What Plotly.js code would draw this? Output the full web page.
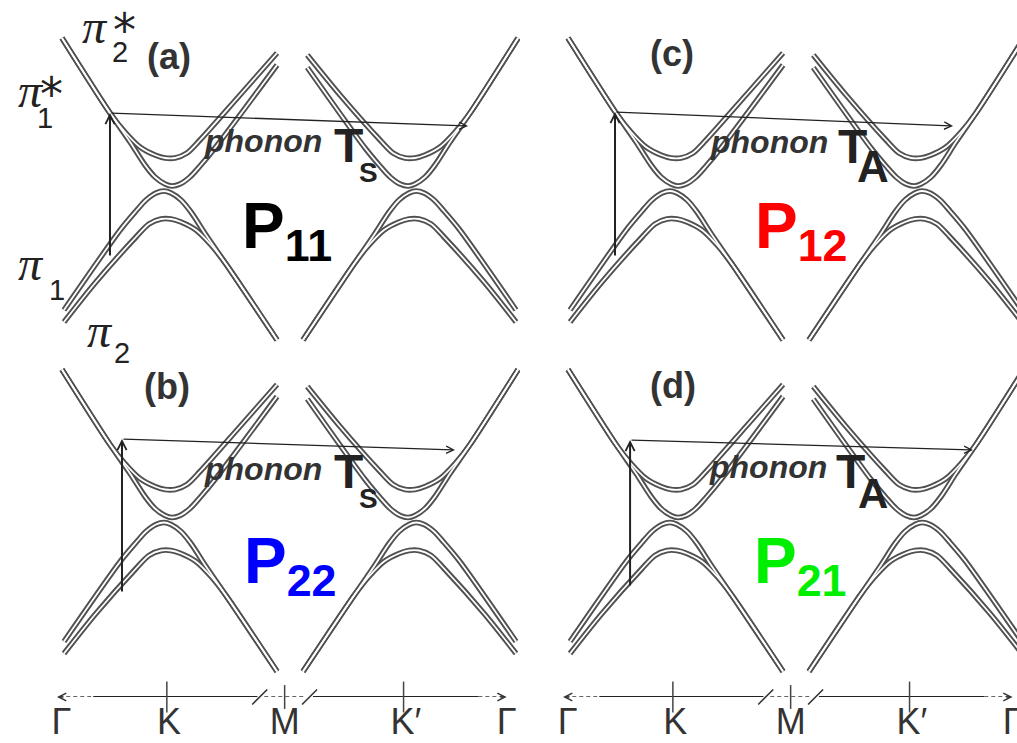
<!DOCTYPE html>
<html><head><meta charset="utf-8">
<script src="https://cdn.plot.ly/plotly-3.0.1.min.js"></script>
<style>html,body{margin:0;padding:0;background:#fff;} #chart{width:1017px;height:743px;}</style>
</head><body><div id="chart"></div>
<script>
// ---- k-path axis (Γ - K - M - K' - Γ), arbitrary k units ----
const kTickText = ['Γ', 'K', 'M', 'K′', 'Γ'];
const kLabelPos = [0.04, 0.99, 2.01, 3.08, 3.97];
const kValleyMarks = [0.97, 3.06];
const kMMark = [2.01];
const kBreaks = [1.79, 2.23];
const kSolid1 = [0.32, 1.77];
const kSolid2 = [2.26, 3.72];
const kDash1 = [0.02, 0.32];
const kDash2 = [1.83, 2.20];
const kDash3 = [3.72, 3.95];
const axisE = -1.77;

// ---- bands around K (energy in arbitrary units) ----
const kK_pi2s = [0.044, 0.468, 0.600, 0.733, 0.865, 0.954, 1.042, 1.148, 1.263, 1.616, 1.943];
const eK_pi2s = [1.505, 0.755, 0.565, 0.415, 0.335, 0.305, 0.305, 0.355, 0.485, 0.935, 1.355];
const kK_pi1s = [0.044, 0.468, 0.645, 0.777, 0.865, 0.954, 1.015, 1.086, 1.174, 1.263, 1.395, 1.943];
const eK_pi1s = [1.505, 0.755, 0.465, 0.235, 0.115, 0.045, 0.025, 0.045, 0.115, 0.225, 0.405, 1.235];
const kK_pi1 = [0.062, 0.565, 0.698, 0.786, 0.874, 0.945, 1.007, 1.095, 1.183, 1.316, 1.492, 1.943];
const eK_pi1 = [-1.215, -0.405, -0.225, -0.115, -0.045, -0.025, -0.045, -0.115, -0.235, -0.465, -0.755, -1.515];
const kK_pi2 = [0.062, 0.344, 0.698, 0.812, 0.918, 1.007, 1.095, 1.227, 1.360, 1.492, 1.943];
const eK_pi2 = [-1.335, -0.935, -0.485, -0.355, -0.305, -0.305, -0.335, -0.415, -0.565, -0.755, -1.515];

// ---- bands around K' ----
const kKp_pi2s = [2.21, 2.499, 2.852, 2.967, 3.073, 3.161, 3.250, 3.382, 3.515, 3.647, 4.071];
const eKp_pi2s = [1.335, 0.935, 0.485, 0.355, 0.305, 0.305, 0.335, 0.415, 0.565, 0.755, 1.505];
const kKp_pi1s = [2.21, 2.720, 2.852, 2.941, 3.029, 3.100, 3.161, 3.250, 3.338, 3.470, 3.647, 4.071];
const eKp_pi1s = [1.21, 0.405, 0.225, 0.115, 0.045, 0.025, 0.045, 0.115, 0.235, 0.465, 0.755, 1.505];
const kKp_pi1 = [2.172, 2.623, 2.799, 2.932, 3.020, 3.108, 3.170, 3.241, 3.329, 3.417, 3.550, 4.053];
const eKp_pi1 = [-1.515, -0.755, -0.465, -0.235, -0.115, -0.045, -0.025, -0.045, -0.115, -0.225, -0.405, -1.215];
const kKp_pi2 = [2.172, 2.623, 2.755, 2.888, 3.020, 3.108, 3.197, 3.303, 3.417, 3.771, 4.053];
const eKp_pi2 = [-1.515, -0.755, -0.565, -0.415, -0.335, -0.305, -0.305, -0.355, -0.485, -0.935, -1.335];

// ---- transitions per panel (a, b, c, d) ----
const pumpK = [0.468, 0.574, 0.459, 0.592];
const pumpE0 = [-0.685, -0.73, -0.685, -0.67];
const pumpE1 = [0.755, 0.81, 0.765, 0.80];
const phononK = [3.629, 3.514, 3.444, 3.620];
const phononE = [0.625, 0.70, 0.625, 0.70];

// ---- panel labels ----
const panelTags = ['(a)', '(b)', '(c)', '(d)'];
const procLabels = ['P<sub>11</sub>', 'P<sub>22</sub>', 'P<sub>12</sub>', 'P<sub>21</sub>'];
const procColors = ['#000000', '#0000ff', '#ff0000', '#00ee00'];
const phononSub = ['S', 'S', 'A', 'A'];

const SANS = 'Liberation Sans, Arial, sans-serif';
const panels = [['x','y'], ['x2','y2'], ['x3','y3'], ['x4','y4']];
const bands = [
  [kK_pi2s, eK_pi2s], [kK_pi1s, eK_pi1s], [kK_pi1, eK_pi1], [kK_pi2, eK_pi2],
  [kKp_pi2s, eKp_pi2s], [kKp_pi1s, eKp_pi1s], [kKp_pi1, eKp_pi1], [kKp_pi2, eKp_pi2]
];

const traces = [];
panels.forEach(([xa, ya]) => {
  bands.forEach(([k, e]) => traces.push({type:'scatter', mode:'lines', x:k, y:e, xaxis:xa, yaxis:ya,
    line:{color:'#505050', width:5.6, shape:'spline', smoothing:0.8}, hoverinfo:'skip'}));
  bands.forEach(([k, e]) => traces.push({type:'scatter', mode:'lines', x:k, y:e, xaxis:xa, yaxis:ya,
    line:{color:'#ffffff', width:1.8, shape:'spline', smoothing:0.8}, hoverinfo:'skip'}));
});

// k-path axis drawn in the lower panels
[['x2','y2'], ['x4','y4']].forEach(([xa, ya]) => {
  [kSolid1, kSolid2].forEach(seg => traces.push({type:'scatter', mode:'lines', x:seg, y:seg.map(() => axisE),
    xaxis:xa, yaxis:ya, line:{color:'#222', width:2.2}, hoverinfo:'skip', cliponaxis:false}));
  [kDash1, kDash2, kDash3].forEach(seg => traces.push({type:'scatter', mode:'lines', x:seg, y:seg.map(() => axisE),
    xaxis:xa, yaxis:ya, line:{color:'#333', width:1.6, dash:'4px,3px'}, hoverinfo:'skip', cliponaxis:false}));
  traces.push({type:'scatter', mode:'markers', x:kValleyMarks, y:kValleyMarks.map(() => axisE), xaxis:xa, yaxis:ya,
    marker:{symbol:'line-ns', size:22, line:{width:1.5, color:'#444'}}, hoverinfo:'skip', cliponaxis:false});
  traces.push({type:'scatter', mode:'markers', x:kMMark, y:kMMark.map(() => axisE), xaxis:xa, yaxis:ya,
    marker:{symbol:'line-ns', size:17, line:{width:1.5, color:'#444'}}, hoverinfo:'skip', cliponaxis:false});
  traces.push({type:'scatter', mode:'markers', x:kBreaks, y:kBreaks.map(() => axisE), xaxis:xa, yaxis:ya,
    marker:{symbol:'line-ne', size:15, line:{width:1.6, color:'#333'}}, hoverinfo:'skip', cliponaxis:false});
});

const annotations = [];
function txt(i, x, y, text, size, color, extra) {
  const [xa, ya] = panels[i];
  annotations.push(Object.assign({xref:xa, yref:ya, x:x, y:y, text:text, showarrow:false,
    font:{family:SANS, size:size, color:color}, xanchor:'center', yanchor:'middle'}, extra || {}));
}
function arrow(i, x, y, ax, ay, width, head, size, color) {
  const [xa, ya] = panels[i];
  annotations.push({xref:xa, yref:ya, axref:xa, ayref:ya, x:x, y:y, ax:ax, ay:ay, text:'',
    showarrow:true, arrowhead:head, arrowsize:size, arrowwidth:width, arrowcolor:color, standoff:0, startstandoff:0});
}

// panel-specific label positions (k, E)
const tagPos = [[0.989, 1.319], [0.971, 1.334], [0.962, 1.349], [0.971, 1.344]];
const phononPos = [[1.823, 0.477], [1.823, 0.512], [1.815, 0.467], [1.806, 0.532]];
const tPos = [[2.578, 0.433], [2.578, 0.488], [2.552, 0.423], [2.539, 0.488]];
const subPos = [[2.746, 0.163], [2.75, 0.218], [2.737, 0.219], [2.737, 0.267]];
const subSize = [28, 28, 44, 42];
const procPos = [[1.616, -0.41], [1.634, -0.455], [1.678, -0.41], [1.669, -0.455]];

for (let i = 0; i < 4; i++) {
  txt(i, tagPos[i][0], tagPos[i][1], '<b>' + panelTags[i] + '</b>', 36, '#333');
  txt(i, phononPos[i][0], phononPos[i][1], '<b><i>phonon</i></b>', 32, '#333');
  txt(i, tPos[i][0], tPos[i][1], '<b>T</b>', 48, '#222');
  txt(i, subPos[i][0], subPos[i][1], '<b>' + phononSub[i] + '</b>', subSize[i], '#222');
  txt(i, procPos[i][0], procPos[i][1], '<b>' + procLabels[i] + '</b>', 64, procColors[i], {xanchor:'left'});
  // pump (vertical) and phonon (horizontal) transitions
  arrow(i, pumpK[i], pumpE1[i], pumpK[i], pumpE0[i], 2, 5, 0.9, '#222');
  arrow(i, phononK[i], phononE[i], pumpK[i], pumpE1[i], 1.3, 5, 1.1, '#222');
}
// band labels in panel (a)
const PIF = {family:'Liberation Serif, serif', size:48, color:'#222'};
const DJ = {family:'DejaVu Sans, sans-serif', size:46, color:'#222'};
txt(0, 0.336, 1.617, '<i>π</i>', 48, '#222', {font:PIF});
txt(0, 0.552, 1.367, '2', 29, '#222');
txt(0, 0.600, 1.585, '*', 46, '#222', {font:DJ});
txt(0, -0.225, 0.977, '<i>π</i>', 48, '#222', {font:PIF});
txt(0, -0.110, 0.707, '1', 29, '#222');
txt(0, -0.045, 0.945, '*', 46, '#222', {font:DJ});
txt(0, -0.225, -0.753, '<i>π</i>', 48, '#222', {font:PIF});
txt(0, 0.000, -1.013, '1', 29, '#222');
txt(0, 0.380, -1.423, '<i>π</i>', 48, '#222', {font:PIF});
txt(0, 0.575, -1.643, '2', 29, '#222');

// axis end arrowheads (lower panels)
[1, 3].forEach(i => {
  arrow(i, 0.0, axisE, 0.07, axisE, 1.5, 5, 1, '#333');
  arrow(i, 3.97, axisE, 3.90, axisE, 1.5, 5, 1, '#333');
});

const hidden = {showgrid:false, zeroline:false, showline:false, showticklabels:false, ticks:'', fixedrange:true};
const leftX = [-0.503, 4.088], rightX = [-0.380, 4.009];
const topY = [-1.715, 1.885], botY = [-1.77, 1.59];
const xDomL = [0, 0.51131], xDomR = [0.51131, 1];
const yDomT = [0.51548, 1], yDomB = [0.061911, 0.514132];
const kAxisLabels = Object.assign({}, hidden, {showticklabels:true, tickmode:'array', tickvals:kLabelPos, ticktext:kTickText,
  tickfont:{family:SANS, size:36, color:'#333'}, ticklabeloverflow:'allow', automargin:false});

const layout = {
  width:1017, height:743, margin:{l:0, r:0, t:0, b:0},
  paper_bgcolor:'#fff', plot_bgcolor:'rgba(0,0,0,0)', showlegend:false,
  xaxis: Object.assign({}, hidden, {domain:xDomL, range:leftX, anchor:'y'}),
  yaxis: Object.assign({}, hidden, {domain:yDomT, range:topY, anchor:'x'}),
  xaxis2: Object.assign({}, kAxisLabels, {domain:xDomL, range:leftX, anchor:'y2'}),
  yaxis2: Object.assign({}, hidden, {domain:yDomB, range:botY, anchor:'x2'}),
  xaxis3: Object.assign({}, hidden, {domain:xDomR, range:rightX, anchor:'y3'}),
  yaxis3: Object.assign({}, hidden, {domain:yDomT, range:topY, anchor:'x3'}),
  xaxis4: Object.assign({}, kAxisLabels, {domain:xDomR, range:rightX, anchor:'y4'}),
  yaxis4: Object.assign({}, hidden, {domain:yDomB, range:botY, anchor:'x4'}),
  annotations: annotations
};
Plotly.newPlot('chart', traces, layout, {staticPlot:true, displayModeBar:false});
</script></body></html>
